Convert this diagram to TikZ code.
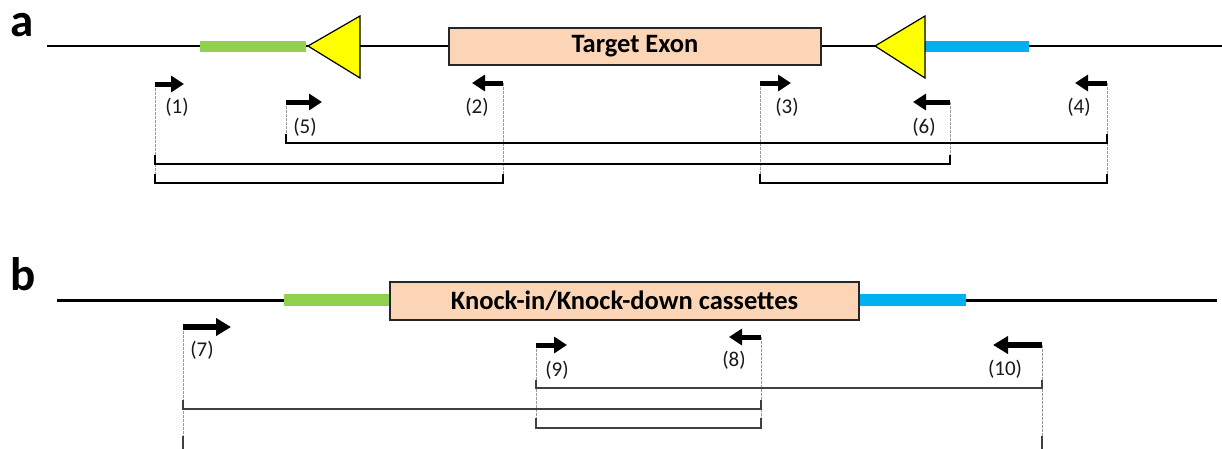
\documentclass[tikz,border=0pt]{standalone}
\usepackage{fontspec}
\setmainfont{Carlito}
\usetikzlibrary{arrows.meta,calc}
\definecolor{gbar}{HTML}{92D050}
\definecolor{bbar}{HTML}{00B0F0}
\definecolor{peach}{HTML}{FBD5B5}
\definecolor{triy}{HTML}{FFFF00}
\definecolor{dgray}{HTML}{404040}
\tikzset{
  dnaline/.style={line width=2.6pt, black},
  gene/.style={draw=black!85, line width=1.3pt, fill=peach, inner sep=0pt, font=\fontsize{26.5}{30}\selectfont\bfseries},
  greenbar/.style={draw=none, fill=gbar, inner sep=0pt, minimum height=11pt},
  bluebar/.style={draw=none, fill=bbar, inner sep=0pt, minimum height=11pt},
  lox/.style={fill=triy, draw=black, line width=1.2pt, line join=miter},
  primer/.style={line width=5pt, -{Triangle[length=13pt,width=16pt]}},
  bigprimer/.style={line width=5.5pt, -{Triangle[length=15pt,width=17pt]}},
  guide/.style={draw=gray!80, line width=0.9pt, dash pattern=on 2.5pt off 1.5pt},
  bracketa/.style={line width=1.4pt, black},
  bracketb/.style={line width=2pt, dgray},
  lab/.style={font=\fontsize{21}{24}\selectfont, inner sep=0pt, text=black!90},
  panel/.style={font=\fontsize{47}{50}\selectfont\bfseries, inner sep=0pt, anchor=base}
}
\begin{document}
\begin{tikzpicture}[x=1pt,y=-1pt]
\clip (0,0) rectangle (1222,448);
\fill[white] (0,0) rectangle (1222,448);

% ---------------- panel a ----------------
\node[panel] (la) at (22,36) {a};
\coordinate (as) at (47,46);
\coordinate (ae) at (1222,46);
\draw[dnaline] (as) -- (ae);
\node[greenbar, minimum width=106pt] (ga) at (253,46) {};
\node[bluebar, minimum width=104pt] (ba) at (977,46) {};
\draw[lox] (308,46) -- (360,16) -- (360,78) -- cycle;
\draw[lox] (875,46) -- (925,16) -- (925,78) -- cycle;
\node[gene, minimum width=372pt, minimum height=37pt] (exon) at (635,46.5) {Target Exon};

% primer positions
\coordinate (p1) at (155,84);
\coordinate (p2) at (503,83);
\coordinate (p3) at (760,83);
\coordinate (p4) at (1107,83);
\coordinate (p5) at (286,102);
\coordinate (p6) at (950,102);
% bracket levels
\coordinate (ya1) at (0,143);
\coordinate (ya2) at (0,164);
\coordinate (ya3) at (0,183);

\draw[guide] (p1) -- (p1|-ya3);
\draw[guide] (p2) -- (p2|-ya3);
\draw[guide] (p3) -- (p3|-ya3);
\draw[guide] (p4) -- (p4|-ya3);
\draw[guide] (p5) -- (p5|-ya1);
\draw[guide] (p6) -- (p6|-ya2);

\draw[primer] (p1) -- ++(29,0);
\draw[primer] (p2) -- ++(-31,0);
\draw[primer] (p3) -- ++(31,0);
\draw[primer] (p4) -- ++(-32,0);
\draw[primer] (p5) -- ++(36,0);
\draw[primer] (p6) -- ++(-37,0);

\node[lab] (l1) at (177,107) {(1)};
\node[lab] (l2) at (477,107) {(2)};
\node[lab] (l3) at (787,107) {(3)};
\node[lab] (l4) at (1079,107) {(4)};
\node[lab] (l5) at (305,127) {(5)};
\node[lab] (l6) at (924,127) {(6)};

\draw[bracketa] ($(p5|-ya1)+(0,-9)$) -- (p5|-ya1) -- (p4|-ya1) -- ++(0,-9);
\draw[bracketa] ($(p1|-ya2)+(0,-9)$) -- (p1|-ya2) -- (p6|-ya2) -- ++(0,-9);
\draw[bracketa] ($(p1|-ya3)+(0,-9)$) -- (p1|-ya3) -- (p2|-ya3) -- ++(0,-9);
\draw[bracketa] ($(p3|-ya3)+(0,-9)$) -- (p3|-ya3) -- (p4|-ya3) -- ++(0,-9);

% ---------------- panel b ----------------
\node[panel] (lb) at (23,290) {b};
\coordinate (bs) at (57,300);
\coordinate (be) at (1217,300);
\draw[dnaline, line width=3pt] (bs) -- (be);
\node[greenbar, minimum width=106pt, minimum height=12pt] (gb) at (337,300) {};
\node[bluebar, minimum width=107pt, minimum height=12pt] (bb) at (912.5,300) {};
\node[gene, minimum width=469pt, minimum height=38pt] (cas) at (624.5,301) {Knock-in/Knock-down cassettes};

\coordinate (p7) at (183,327);
\coordinate (p8) at (761,337);
\coordinate (p9) at (536,345);
\coordinate (p10) at (1042,345);
\coordinate (yb1) at (0,388);
\coordinate (yb2) at (0,409);
\coordinate (yb3) at (0,428);
\coordinate (yb4) at (0,454);

\draw[guide] (p7) -- (p7|-yb4);
\draw[guide] (p8) -- (p8|-yb3);
\draw[guide] (p9) -- (p9|-yb3);
\draw[guide] (p10) -- (p10|-yb4);

\draw[bigprimer] (p7) -- ++(48,0);
\draw[primer] (p8) -- ++(-32,0);
\draw[primer] (p9) -- ++(31,0);
\draw[bigprimer] (p10) -- ++(-49,0);

\node[lab] (l7) at (202,350) {(7)};
\node[lab] (l8) at (734,360) {(8)};
\node[lab] (l9) at (557,370) {(9)};
\node[lab] (l10) at (1005,369) {(10)};

\draw[bracketb] ($(p9|-yb1)+(0,-8)$) -- (p9|-yb1) -- (p10|-yb1) -- ++(0,-8);
\draw[bracketb] ($(p7|-yb2)+(0,-9)$) -- (p7|-yb2) -- (p8|-yb2) -- ++(0,-9);
\draw[bracketb] ($(p9|-yb3)+(0,-10)$) -- (p9|-yb3) -- (p8|-yb3) -- ++(0,-10);
\draw[bracketb] ($(p7|-yb4)+(0,-18)$) -- (p7|-yb4) -- (p10|-yb4) -- ++(0,-18);
\end{tikzpicture}
\end{document}
